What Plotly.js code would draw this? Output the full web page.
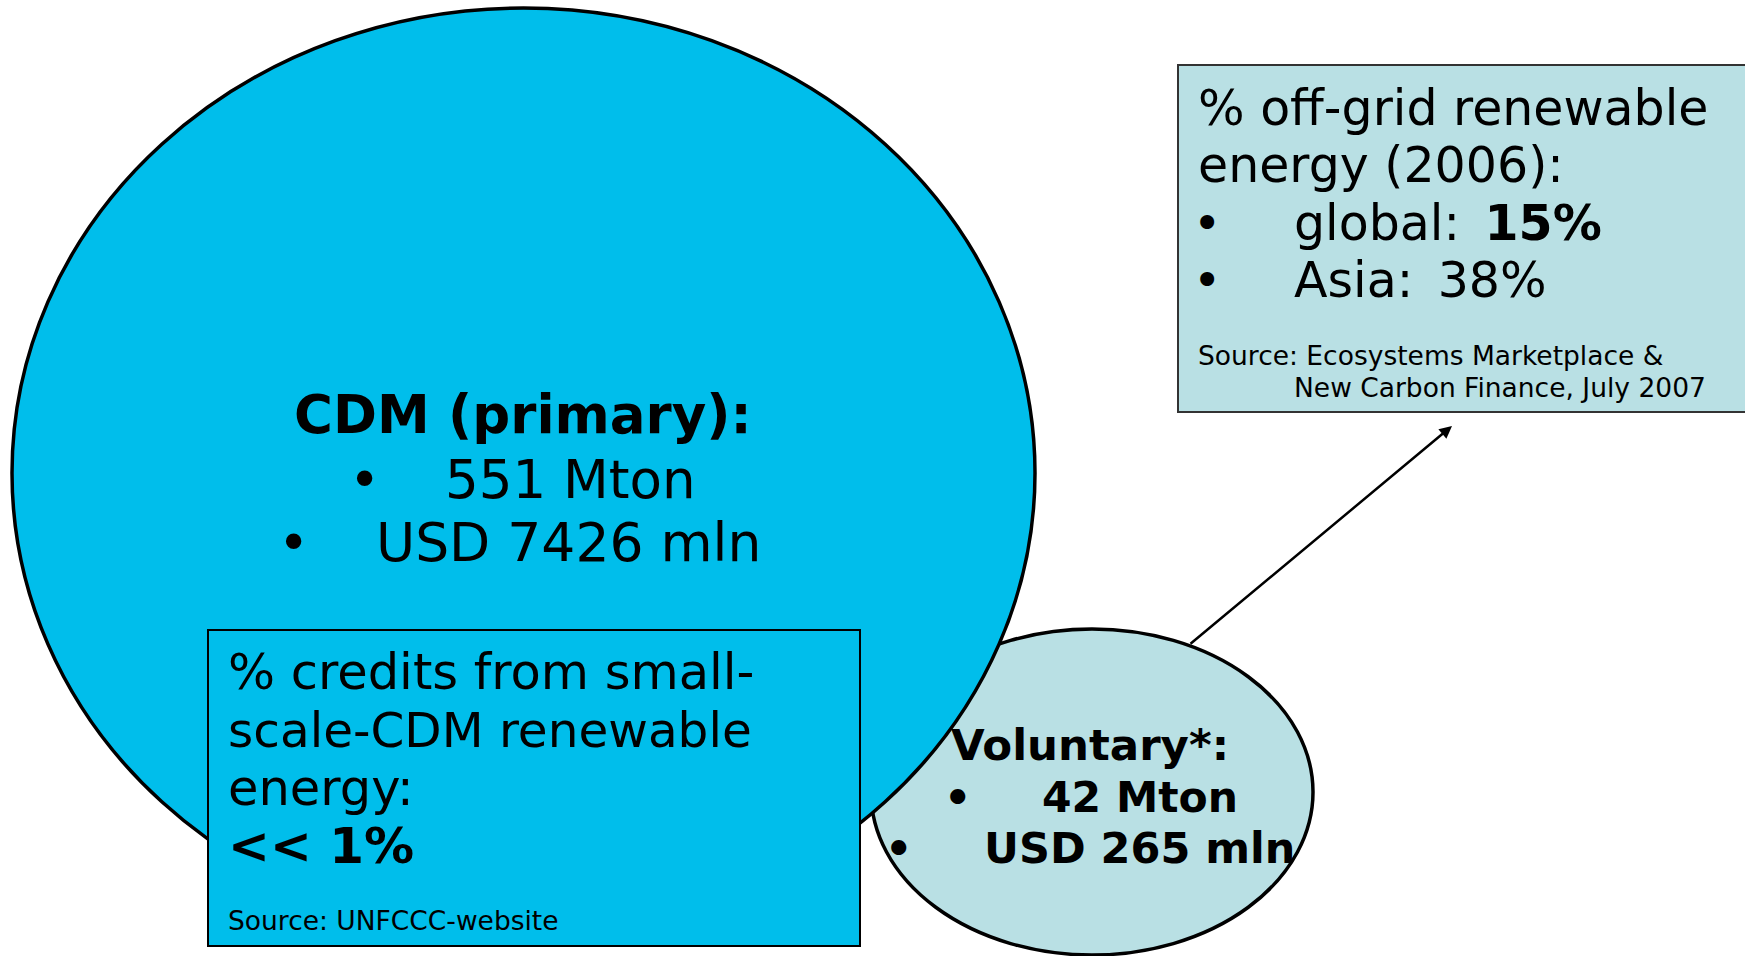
<!DOCTYPE html>
<html>
<head>
<meta charset="utf-8">
<script src="https://cdn.plot.ly/plotly-3.0.1.min.js"></script>
<style>html,body{margin:0;padding:0;background:#fff;overflow:hidden}#chart{width:1745px;height:956px}</style>
</head>
<body>
<div id="chart"></div>
<script>
// ---- data ----
const markets = ["CDM (primary)", "Voluntary*"];
const volumesMton = [551, 42];
const valuesUsdMln = [7426, 265];
const offgridRegions = ["global", "Asia"];
const offgridShares = [15, 38];
const offgridTitle = ["% off-grid renewable", "energy (2006):"];
const offgridSource = ["Source: Ecosystems Marketplace &", "New Carbon Finance, July 2007"];
const smallScaleTitle = ["% credits from small-", "scale-CDM renewable", "energy:"];
const smallScaleShare = "&lt;&lt; 1%";
const smallScaleSource = "Source: UNFCCC-website";

// ---- styles ----
const FONT = "DejaVu Sans";
const CYAN = "rgb(0,190,235)";
const LIGHT = "rgb(185,224,228)";

const shapes = [
  // voluntary market ellipse (below the CDM one)
  {type:"circle", xref:"x", yref:"y", x0:871, x1:1313, y0:629, y1:955,
   fillcolor:LIGHT, line:{color:"#000", width:3.5}, layer:"above"},
  // CDM ellipse
  {type:"circle", xref:"x", yref:"y", x0:12, x1:1035, y0:8, y1:938,
   fillcolor:CYAN, line:{color:"#000", width:3.5}, layer:"above"},
  // small-scale box
  {type:"rect", xref:"x", yref:"y", x0:208, x1:860, y0:630, y1:946,
   fillcolor:CYAN, line:{color:"#000", width:2}, layer:"above"},
  // off-grid box
  {type:"rect", xref:"x", yref:"y", x0:1178, x1:1760, y0:65, y1:412,
   fillcolor:LIGHT, line:{color:"#333", width:2}, layer:"above"}
];

function txt(x, y, text, size, anchor){
  return {xref:"x", yref:"y", x:x, y:y, text:text, showarrow:false,
          xanchor:anchor||"left", yanchor:"middle",
          font:{family:FONT, size:size, color:"#000"}};
}

const annotations = [];
// arrow from voluntary to off-grid box
annotations.push({xref:"x", yref:"y", axref:"x", ayref:"y",
  x:1452, y:426, ax:1189, ay:645, text:"", showarrow:true,
  arrowhead:2, arrowsize:1, arrowwidth:2.5, arrowcolor:"#000"});

// CDM text
annotations.push(txt(523, 414, "<b>" + markets[0] + ":</b>", 53, "center"));
annotations.push(txt(364, 479, "•", 53, "center"));
annotations.push(txt(443, 479, volumesMton[0] + " Mton", 53));
annotations.push(txt(293, 542, "•", 53, "center"));
annotations.push(txt(374, 542, "USD " + valuesUsdMln[0] + " mln", 53.5));

// Voluntary text
annotations.push(txt(949, 745, "<b>" + markets[1] + ":</b>", 43.5));
annotations.push(txt(957, 797, "<b>•</b>", 43, "center"));
annotations.push(txt(1040, 797, "<b>" + volumesMton[1] + " Mton</b>", 42.5));
annotations.push(txt(898, 848, "<b>•</b>", 43, "center"));
annotations.push(txt(982, 848, "<b>USD " + valuesUsdMln[1] + " mln</b>", 43));

// Off-grid box
annotations.push(txt(1196, 108, offgridTitle[0], 49));
annotations.push(txt(1196, 165, offgridTitle[1], 49));
annotations.push(txt(1207, 223, "•", 48, "center"));
annotations.push(txt(1292, 223, offgridRegions[0] + ":\u2002<b>" + offgridShares[0] + "%</b>", 49));
annotations.push(txt(1207, 280, "•", 48, "center"));
annotations.push(txt(1292, 280, offgridRegions[1] + ":\u2002" + offgridShares[1] + "%", 49));
annotations.push(txt(1196, 355, offgridSource[0], 26.5));
annotations.push(txt(1292, 387, offgridSource[1], 26.5));

// Small-scale box
annotations.push(txt(226, 672, smallScaleTitle[0], 49.5));
annotations.push(txt(226, 730, smallScaleTitle[1], 48.5));
annotations.push(txt(226, 788, smallScaleTitle[2], 49.5));
annotations.push(txt(226, 846, "<b>" + smallScaleShare + "</b>", 50));
annotations.push(txt(226, 920, smallScaleSource, 26.5));

const layout = {
  width:1745, height:956,
  margin:{l:0, r:0, t:0, b:0},
  paper_bgcolor:"#fff", plot_bgcolor:"#fff",
  showlegend:false,
  xaxis:{range:[0,1745], visible:false, fixedrange:true},
  yaxis:{range:[956,0], visible:false, fixedrange:true},
  shapes:shapes,
  annotations:annotations
};

Plotly.newPlot("chart", [{x:[], y:[], type:"scatter", mode:"markers", hoverinfo:"skip"}], layout,
  {staticPlot:true, displayModeBar:false});
</script>
</body>
</html>
